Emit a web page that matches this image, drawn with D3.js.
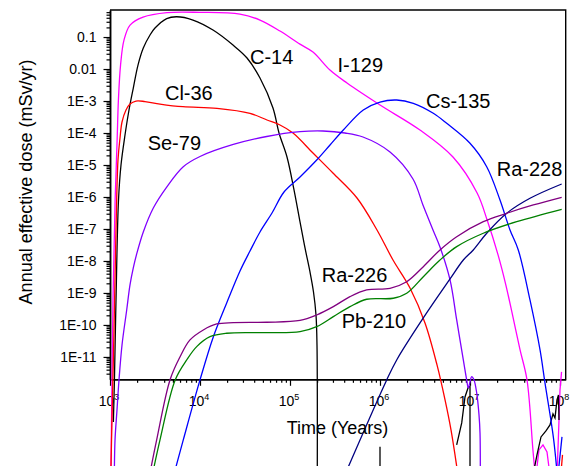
<!DOCTYPE html>
<html>
<head>
<meta charset="utf-8">
<script src="https://cdn.jsdelivr.net/npm/d3@7"></script>
<style>
  body { margin: 0; background: #fff; }
  svg { display: block; }
  text { font-family: Arial, "Liberation Sans", sans-serif; fill: #000; }
</style>
</head>
<body>
<script>
var width = 575,
    height = 466;

// ---- data: [time (years), annual effective dose (mSv/yr)] ----
var i129 = [[1.025e3,2e-15],[1.08e3,6.0e-10],[1.14e3,8.1e-7],[1.2e3,6.0e-5],[1.24e3,1.07e-3],[1.31e3,1.33e-2],
  [1.43e3,8.0e-2],[1.67e3,0.237],[2.33e3,0.42],[4.3e3,0.58],[1e4,0.59],[2.78e4,0.52],[4.64e4,0.34],[7.74e4,0.154],
  [1.29e5,6.0e-2],[1.8e5,3.4e-2],[2.78e5,9.3e-3],[4.3e5,3.65e-3],[1e6,7.5e-4],[2.78e6,1.24e-4],[6.47e6,1.78e-5],
  [1.2e7,1.33e-6],[1.55e7,1.91e-7],[2.05e7,1.55e-8],[2.5e7,1.8e-9],[3.0e7,1.78e-10],[3.6e7,1.66e-11],[4.3e7,1.9e-12],
  [5.0e7,1.26e-14],[5.3e7,2e-15]];
var i129Tail1 = [[5.41e7,2e-15],[5.84e7,1.24e-14],[6.47e7,1.78e-14],[7.17e7,1.07e-14],[7.74e7,2e-15]];
var i129Tail2 = [[9.27e7,2e-15],[9.75e7,1.07e-13],[1e8,9.3e-13],[1.04e8,3.4e-12]];

var c14 = [[1.09e3,9.3e-14],[1.12e3,1.91e-12],[1.166e3,6.04e-10],[1.243e3,8.05e-7],[1.325e3,1.0e-5],[1.468e3,8.66e-5],
  [1.626e3,5.24e-4],[1.815e3,2.55e-3],[2.047e3,1.33e-2],[2.344e3,4.53e-2],[2.783e3,0.1155],[3.162e3,0.191],[4.266e3,0.378],
  [5.51e3,0.43],[8.36e3,0.34],[1.395e4,0.1655],[2.326e4,5.62e-2],[3.33e4,2.21e-2],[4.64e4,5.24e-3],[6.47e4,6.04e-4],
  [7.55e4,1.0e-4],[9.26e4,1.78e-5],[1.108e5,1.66e-6],[1.292e5,1.66e-7],[1.468e5,2.55e-8],[1.668e5,4.53e-9],
  [1.824e5,1.07e-9],[1.945e5,2.05e-10],[1.995e5,2.37e-11],[2.01e5,2e-15]];
var c14Tail1 = [[1e6,1.55e-14],[1e6,2e-15]];
var c14Tail2 = [[7.11e6,1.78e-14],[8.09e6,8.66e-14],[8.8e6,5.6e-13],[9.58e6,1.15e-12],[1.0e7,1.2e-12],[1.0e7,2e-15]];
var c14Tail3 = [[5.01e7,2e-15],[5.55e7,8.66e-15],[6.15e7,3.16e-14],[6.98e7,4.87e-14],[7.74e7,7.5e-14],[8.36e7,1.66e-13],
  [8.8e7,1.24e-13],[9.26e7,4.53e-13],[9.62e7,6.5e-13],[9.75e7,1.07e-13]];

var cl36 = [[1.02e3,2e-15],[1.052e3,1.07e-13],[1.108e3,6.98e-11],[1.166e3,9.3e-8],[1.227e3,1.43e-5],[1.292e3,6.98e-5],
  [1.36e3,2.21e-4],[1.506e3,5.24e-4],[1.668e3,8.05e-4],[1.945e3,1.0e-3],[2.448e3,9.64e-4],[3.594e3,8.05e-4],
  [6.47e3,6.63e-4],[1.545e4,5.91e-4],[3.594e4,4.13e-4],[5.55e4,2.55e-4],[7.74e4,1.78e-4],[1.08e5,1.0e-4],
  [1.8e5,2.37e-5],[3.0e5,5.62e-6],[5.55e5,9.3e-7],[9.26e5,9.3e-8],[1.395e6,1.07e-8],[2.154e6,1.43e-9],
  [3.162e6,1.155e-10],[4.3e6,5.62e-12],[5.28e6,4.53e-13],[6.15e6,5.24e-14],[7.36e6,2e-15]];
var cl36Tail = [[1.02e8,2e-15],[1.066e8,8.7e-15]];

var se79 = [[1.117e3,2e-15],[1.137e3,2.55e-14],[1.196e3,2.21e-13],[1.259e3,1.91e-12],[1.36e3,2.37e-11],[1.533e3,2.94e-10],
  [1.668e3,1.78e-9],[1.815e3,6.04e-9],[1.98e3,1.66e-8],[2.344e3,8.05e-8],[3.028e3,4.53e-7],[4.266e3,2.05e-6],
  [6.52e3,8.85e-6],[1e4,1.845e-5],[2.344e4,4.38e-5],[5.51e4,7.78e-5],[1.292e5,1.1e-4],[2.326e5,1.155e-4],
  [4.085e5,1.0e-4],[6.47e5,7.5e-5],[1.292e6,2.55e-5],[2.326e6,3.65e-6],[3.0e6,5.62e-7],[3.88e6,9.3e-8],
  [4.64e6,2.74e-8],[6.0e6,2.55e-9],[7.115e6,1.43e-10],[8.43e6,8.05e-12],[9.19e6,1.91e-12],[9.57e6,1.07e-12],
  [1.0e7,1.66e-12],[1.044e7,2.42e-12],[1.108e7,1.91e-12],[1.187e7,7.5e-13],[1.259e7,1.54e-13],[1.292e7,4.22e-14],
  [1.302e7,2e-15]];

var cs135 = [[5.1e3,2e-15],[6.52e3,2.55e-14],[1e4,1.91e-12],[1.405e4,4.22e-11],[1.98e4,4.87e-10],[2.783e4,4.87e-9],
  [3.594e4,2.05e-8],[4.64e4,8.05e-8],[6.31e4,3.16e-7],[8.58e4,1.43e-6],[1.292e5,4.22e-6],[1.98e5,1.43e-5],
  [2.783e5,4.22e-5],[3.91e5,1.24e-4],[6.52e5,5.24e-4],[1e6,9.3e-4],[1.533e6,1.074e-3],[2.344e6,8.47e-4],
  [3.91e6,4.13e-4],[5.51e6,2.01e-4],[1e7,4.77e-5],[1.533e7,8.85e-6],[2.154e7,8.05e-7],[2.783e7,9.3e-8],
  [3.44e7,2.21e-8],[4.64e7,6.04e-10],[6.0e7,1.66e-11],[6.81e7,1.54e-12],[8.43e7,3.16e-14],[9.33e7,2e-15]];
var cs135Tail = [[9.5e7,2e-15],[1.052e8,3.16e-14]];

var ra228 = [[4.05e5,2e-15],[1.187e6,1.91e-12],[1.533e6,8.05e-12],[3.03e6,1.66e-10],[6.0e6,2.74e-9],[8.43e6,1.07e-8],
  [1.088e7,2.21e-8],[1.533e7,7.35e-8],[2.557e7,3.1e-7],[4.64e7,9.1e-7],[1.044e8,2.55e-6]];

var ra226 = [[2.75e3,2e-15],[3.3e3,2.55e-14],[4.64e3,1.91e-12],[5.99e3,1.0e-11],[7.74e3,3.4e-11],[1.088e4,6.98e-11],
  [1.533e4,1.074e-10],[2.344e4,1.18e-10],[5.51e4,1.214e-10],[1.292e5,1.38e-10],[1.98e5,2.05e-10],[3.03e5,3.73e-10],
  [4.64e5,7.66e-10],[7.115e5,1.24e-9],[1.292e6,1.4e-9],[1.98e6,2.25e-9],[3.03e6,6.64e-9],[4.64e6,2.21e-8],
  [7.115e6,5.74e-8],[1.405e7,1.69e-7],[2.557e7,3.1e-7],[5.05e7,5.62e-7],[1.044e8,9.8e-7]];

var pb210 = [[2.95e3,2e-15],[3.594e3,2.55e-14],[5.3e3,1.91e-12],[7.115e3,8.05e-12],[9.19e3,2.1e-11],[1.292e4,4.31e-11],
  [1.98e4,5.51e-11],[5.51e4,5.74e-11],[1.292e5,6.18e-11],[1.98e5,8.85e-11],[3.03e5,1.82e-10],[4.64e5,3.73e-10],
  [7.115e5,6.36e-10],[1.405e6,6.83e-10],[1.98e6,9.8e-10],[3.03e6,3.23e-9],[4.64e6,1.07e-8],[7.115e6,2.8e-8],
  [1.405e7,7.35e-8],[3.303e7,1.69e-7],[1.044e8,4.13e-7]];

// label anchors, in data units [years, mSv/yr]
var labelNames = ["C-14", "I-129", "Cs-135", "Ra-228", "Cl-36", "Se-79", "Ra-226", "Pb-210"];
var labelAnchors = [[3.59e4,1.43e-2],[3.37e5,8.05e-3],[3.24e6,5.91e-4],[1.98e7,4.53e-6],
                    [4.08e3,1.11e-3],[2.62e3,2.84e-5],[2.25e5,2.25e-9],[3.75e5,8.24e-11]];

// axis ticks
var xMajor = [1e3, 1e4, 1e5, 1e6, 1e7, 1e8];
var xTickExp = ["3", "4", "5", "6", "7", "8"];
var yMajor = [1e-1, 1e-2, 1e-3, 1e-4, 1e-5, 1e-6, 1e-7, 1e-8, 1e-9, 1e-10, 1e-11];
var yTickLabels = ["0.1", "0.01", "1E-3", "1E-4", "1E-5", "1E-6", "1E-7", "1E-8", "1E-9", "1E-10", "1E-11"];

var series = [
  { color: "#ff00ff", main: i129,  tails: [i129Tail1, i129Tail2] },
  { color: "#000000", main: c14,   tails: [c14Tail1, c14Tail2, c14Tail3] },
  { color: "#ff0000", main: cl36,  tails: [cl36Tail] },
  { color: "#8000ff", main: se79,  tails: [] },
  { color: "#0000ff", main: cs135, tails: [cs135Tail] },
  { color: "#000080", main: ra228, tails: [] },
  { color: "#800080", main: ra226, tails: [] },
  { color: "#008000", main: pb210, tails: [] }
];

var mLeft = 110, mRight = 565.7, mTop = 10, mBottom = 379.3;

var x = d3.scaleLog().domain([1e3, 1.157e8]).range([mLeft, mRight]);
var y = d3.scaleLog().domain([2e-12, 0.7]).range([mBottom, mTop]);

var svg = d3.select("body").append("svg")
    .attr("width", width)
    .attr("height", height);

// curves run past the bottom axis in the original, so only clip the top
svg.append("clipPath").attr("id", "clip")
  .append("rect")
    .attr("x", mLeft).attr("y", mTop)
    .attr("width", mRight - mLeft).attr("height", height - mTop);

// minor ticks (2..9 of each decade)
function minors(scale) {
  var d = scale.domain(), out = [];
  for (var e = Math.floor(Math.log10(d[0])); e <= Math.ceil(Math.log10(d[1])); e++) {
    for (var k = 2; k <= 9; k++) {
      var v = k * Math.pow(10, e);
      if (v > d[0] && v < d[1]) out.push(v);
    }
  }
  return out;
}

var gx = svg.append("g").attr("transform", "translate(0," + mBottom + ")");
gx.call(d3.axisBottom(x).tickValues(minors(x)).tickSize(3.5).tickSizeOuter(0).tickFormat(""));
gx.append("g").call(d3.axisBottom(x).tickValues(xMajor).tickSize(6.5).tickSizeOuter(0).tickFormat(""));

var gy = svg.append("g").attr("transform", "translate(" + mLeft + ",0)");
gy.call(d3.axisLeft(y).tickValues(minors(y)).tickSize(3.5).tickSizeOuter(0).tickFormat(""));
gy.append("g").call(d3.axisLeft(y).tickValues(yMajor).tickSize(6.5).tickSizeOuter(0).tickPadding(7)
    .tickFormat(function(d, i) { return yTickLabels[i]; }));

svg.selectAll(".domain").attr("stroke-width", 1.5);
svg.selectAll(".tick line").attr("stroke-width", 1.2);
gy.selectAll("text").style("font-size", "14px").style("font-family", "Arial, 'Liberation Sans', sans-serif");

// x tick labels 10^n
var xl = svg.append("g");
xMajor.forEach(function(v, i) {
  var t = xl.append("text")
      .attr("x", x(v) - 1)
      .attr("y", mBottom + 27)
      .attr("text-anchor", "middle")
      .style("font-size", "14px");
  t.append("tspan").text("10");
  t.append("tspan").attr("dy", -6.5).style("font-size", "9px").text(xTickExp[i]);
});

// frame top/right
svg.append("path")
    .attr("d", "M" + mLeft + "," + mTop + "H" + mRight + "V" + mBottom)
    .attr("fill", "none")
    .attr("stroke", "#000")
    .attr("stroke-width", 1.4);

// curves
var smooth = d3.line()
    .x(function(d) { return x(d[0]); })
    .y(function(d) { return y(d[1]); })
    .curve(d3.curveCatmullRom.alpha(0.5));
var straight = d3.line()
    .x(function(d) { return x(d[0]); })
    .y(function(d) { return y(d[1]); });

var plot = svg.append("g").attr("clip-path", "url(#clip)");
series.forEach(function(s) {
  plot.append("path")
      .attr("d", smooth(s.main))
      .attr("fill", "none")
      .attr("stroke", s.color)
      .attr("stroke-width", 1.3);
  s.tails.forEach(function(seg) {
    plot.append("path")
        .attr("d", straight(seg))
        .attr("fill", "none")
        .attr("stroke", s.color)
        .attr("stroke-width", 1.3);
  });
});

// curve labels
labelNames.forEach(function(name, i) {
  svg.append("text")
      .attr("x", x(labelAnchors[i][0]))
      .attr("y", y(labelAnchors[i][1]))
      .style("font-size", "20px")
      .text(name);
});

// axis titles
svg.append("text")
    .attr("x", 337.5)
    .attr("y", 434)
    .attr("text-anchor", "middle")
    .style("font-size", "18px")
    .text("Time (Years)");

svg.append("text")
    .attr("transform", "translate(31.5,182) rotate(-90)")
    .attr("text-anchor", "middle")
    .style("font-size", "18px")
    .text("Annual effective dose (mSv/yr)");
</script>
</body>
</html>
